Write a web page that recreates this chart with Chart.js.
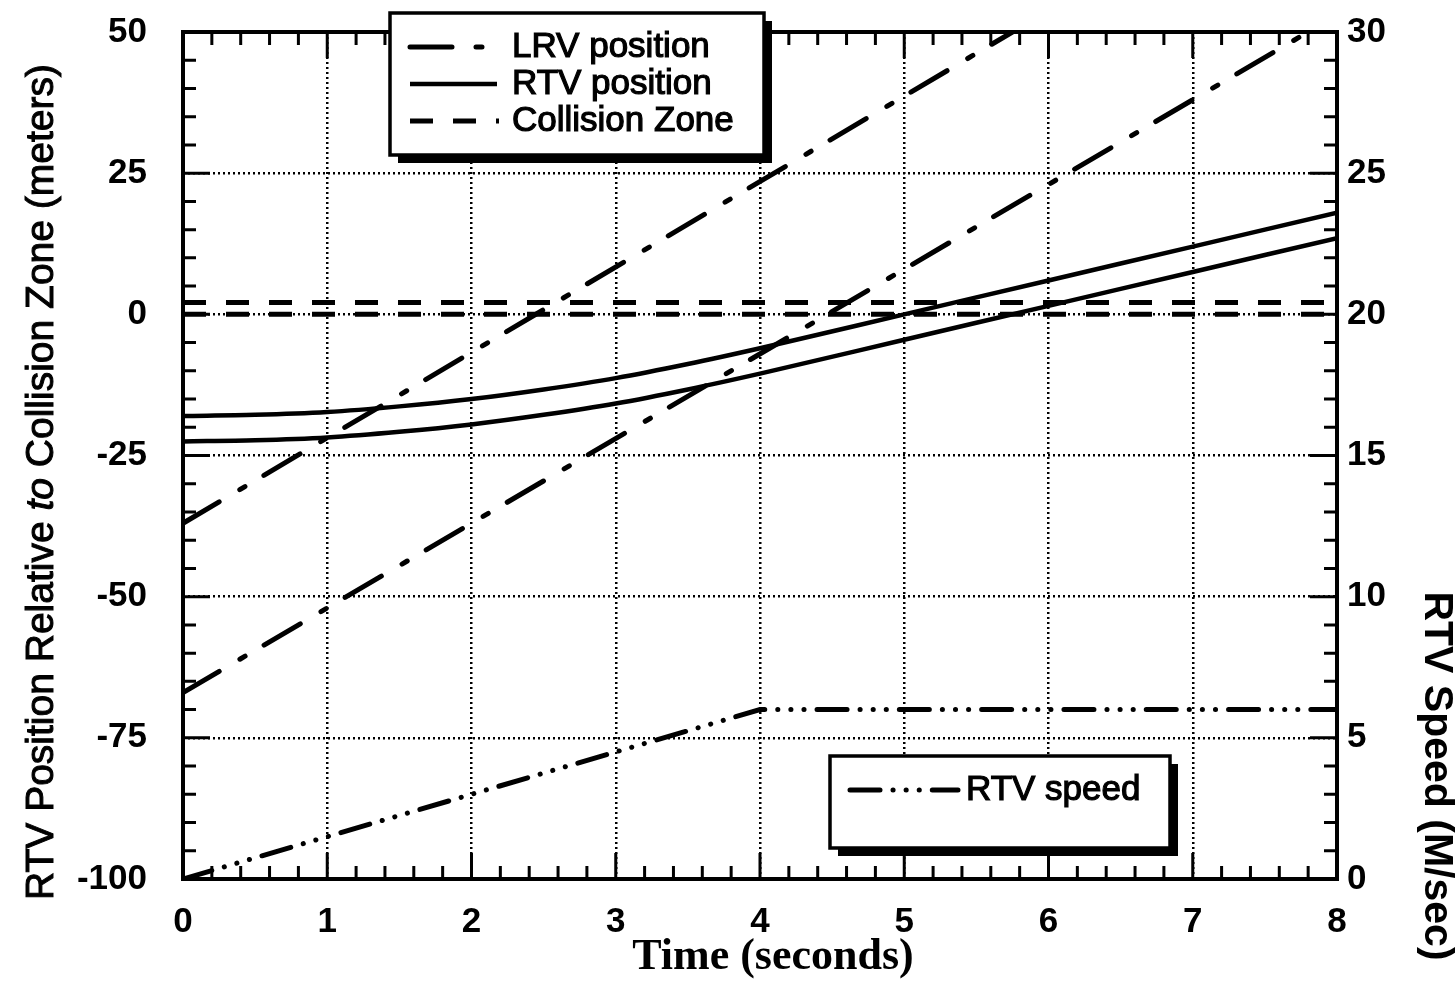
<!DOCTYPE html>
<html>
<head>
<meta charset="utf-8">
<script src="https://cdn.jsdelivr.net/npm/chart.js@4.4.1/dist/chart.umd.min.js"></script>
<style>
html, body { margin: 0; padding: 0; background: #fff; }
#wrap { position: relative; width: 1456px; height: 985px; }
</style>
</head>
<body>
<div id="wrap"><canvas id="chart" width="1456" height="985"></canvas></div>
<script>
// axes
const timeTicks = [0, 1, 2, 3, 4, 5, 6, 7, 8]
const posTicks = [-100, -75, -50, -25, 0, 25, 50]
const speedTicks = [0, 5, 10, 15, 20, 25, 30]

// LRV front / rear position (m)
const lrvFrontT = [0, 5.75]
const lrvFrontPos = [-37, 50]
const lrvRearT = [0, 7.8]
const lrvRearPos = [-67, 50]

// RTV front / rear position (m)
const rtvT = [0, 0.5, 1, 1.5, 2, 2.5, 3, 3.5, 4, 5, 6, 7, 8]
const rtvFrontPos = [-18, -17.8, -17.3, -16.3, -15, -13.3, -11.3, -8.8, -6, 0, 6, 12, 18]
const rtvRearPos = [-22.5, -22.3, -21.8, -20.8, -19.5, -17.8, -15.8, -13.3, -10.5, -4.5, 1.5, 7.5, 13.5]

// collision zone edges (m)
const zoneT = [0, 8]
const zoneNear = [0, 0]
const zoneFar = [2.1, 2.1]

// RTV speed (m/s), right axis
const speedT = [0, 1, 2, 3, 4, 8]
const rtvSpeed = [0, 1.5, 3, 4.5, 6, 6]

const SANS = '"Liberation Sans", Arial, sans-serif'
const SERIF = '"Liberation Serif", "Times New Roman", serif'

function pts(xs, ys) {
    return xs.map((x, i) => ({x: x, y: ys[i]}))
}

const lrvDash = [42, 24, 6, 22]
const zoneDash = [23, 20]
const speedDash = [30, 13, 0.1, 13, 0.1, 13, 0.1, 13]

const datasets = [
    {label: 'LRV position', data: pts(lrvFrontT, lrvFrontPos), borderDash: lrvDash, borderCapStyle: 'round', borderWidth: 5},
    {label: 'LRV rear', data: pts(lrvRearT, lrvRearPos), borderDash: lrvDash, borderCapStyle: 'round', borderWidth: 5},
    {label: 'RTV position', data: pts(rtvT, rtvFrontPos), borderWidth: 4.5, cubicInterpolationMode: 'monotone'},
    {label: 'RTV rear', data: pts(rtvT, rtvRearPos), borderWidth: 4.5, cubicInterpolationMode: 'monotone'},
    {label: 'Collision Zone', data: pts(zoneT, zoneFar), borderDash: zoneDash, borderWidth: 5},
    {label: 'Collision near', data: pts(zoneT, zoneNear), borderDash: zoneDash, borderWidth: 5},
    {label: 'RTV speed', data: pts(speedT, rtvSpeed), borderDash: speedDash, borderCapStyle: 'round', borderWidth: 5, yAxisID: 'y2'}
]
datasets.forEach(d => {
    d.borderColor = '#000'
    d.pointRadius = 0
    d.fill = false
    if (!d.yAxisID) d.yAxisID = 'y'
})

function drawSample(ctx, x1, x2, y, ds) {
    ctx.save()
    ctx.strokeStyle = '#000'
    ctx.lineWidth = ds.borderWidth
    ctx.lineCap = ds.borderCapStyle || 'butt'
    ctx.setLineDash(ds.borderDash || [])
    ctx.beginPath()
    ctx.moveTo(x1, y)
    ctx.lineTo(x2, y)
    ctx.stroke()
    ctx.restore()
}

function drawBox(ctx, x, y, w, h) {
    ctx.save()
    ctx.fillStyle = '#000'
    ctx.fillRect(x + 8, y + 8, w, h)
    ctx.fillStyle = '#fff'
    ctx.fillRect(x, y, w, h)
    ctx.strokeStyle = '#000'
    ctx.lineWidth = 3.5
    ctx.strokeRect(x, y, w, h)
    ctx.restore()
}

function drawLabel(ctx, text, x, y, font) {
    ctx.save()
    ctx.font = font
    ctx.fillStyle = '#000'
    ctx.strokeStyle = '#000'
    ctx.lineWidth = 1.2
    ctx.textAlign = 'left'
    ctx.textBaseline = 'middle'
    ctx.fillText(text, x, y)
    ctx.strokeText(text, x, y)
    ctx.restore()
}

function drawParts(ctx, parts, cx, cy, angle) {
    ctx.save()
    ctx.translate(cx, cy)
    ctx.rotate(angle)
    ctx.fillStyle = '#000'
    ctx.strokeStyle = '#000'
    ctx.lineWidth = 1
    ctx.textAlign = 'left'
    ctx.textBaseline = 'middle'
    let total = 0
    parts.forEach(p => { ctx.font = p.font; p.w = ctx.measureText(p.text).width; total += p.w })
    let x = -total / 2
    parts.forEach(p => {
        ctx.font = p.font
        ctx.fillText(p.text, x, 0)
        if (p.stroke) ctx.strokeText(p.text, x, 0)
        x += p.w
    })
    ctx.restore()
}

const frame = {
    id: 'frame',
    afterDatasetsDraw(chart) {
        const ctx = chart.ctx
        const a = chart.chartArea
        const sx = chart.scales.x, sy = chart.scales.y, s2 = chart.scales.y2
        ctx.save()
        ctx.strokeStyle = '#000'
        ctx.lineWidth = 3
        ctx.beginPath()
        // minor ticks every 0.2 s, 5 m and 1 m/s, pointing inward
        for (let i = 0; i <= 40; i++) {
            const px = sx.getPixelForValue(i / 5)
            const len = i % 5 ? 13 : 26
            ctx.moveTo(px, a.bottom); ctx.lineTo(px, a.bottom - len)
            ctx.moveTo(px, a.top); ctx.lineTo(px, a.top + len)
        }
        for (let i = 0; i <= 30; i++) {
            const py = sy.getPixelForValue(-100 + i * 5)
            ctx.moveTo(a.left, py); ctx.lineTo(a.left + (i % 5 ? 13 : 27), py)
            const py2 = s2.getPixelForValue(i)
            ctx.moveTo(a.right, py2); ctx.lineTo(a.right - (i % 5 ? 13 : 27), py2)
        }
        ctx.stroke()
        ctx.lineWidth = 4
        ctx.strokeRect(a.left, a.top, a.right - a.left, a.bottom - a.top)
        ctx.restore()
    },
    afterDraw(chart) {
        const ctx = chart.ctx
        const ds = chart.data.datasets
        const legendFont = '35px ' + SANS

        // upper legend
        drawBox(ctx, 390, 13, 374, 142)
        drawSample(ctx, 410, 497, 47, ds[0])
        drawLabel(ctx, 'LRV position', 512, 47, legendFont)
        drawSample(ctx, 410, 497, 84, ds[2])
        drawLabel(ctx, 'RTV position', 512, 84, legendFont)
        drawSample(ctx, 410, 499, 121, ds[4])
        drawLabel(ctx, 'Collision Zone', 512, 121, legendFont)

        // lower legend
        drawBox(ctx, 830, 756, 340, 92)
        drawSample(ctx, 850, 958, 790, ds[6])
        drawLabel(ctx, 'RTV speed', 966, 790, legendFont)

        // axis titles
        drawParts(ctx, [
            {text: 'RTV Position Relative ', font: '39px ' + SANS, stroke: true},
            {text: 'to', font: 'italic 39px ' + SANS, stroke: true},
            {text: ' Collision Zone (meters)', font: '39px ' + SANS, stroke: true}
        ], 42, 482, -Math.PI / 2)
        drawParts(ctx, [{text: 'RTV Speed (M/sec)', font: 'bold 41px ' + SANS}], 1436, 776, Math.PI / 2)
        drawParts(ctx, [{text: 'Time (seconds)', font: 'bold 44px ' + SERIF}], 773, 958, 0)
    }
}

const tickFont = {family: SANS, size: 35, weight: 'bold'}
const gridOpts = {color: '#000', lineWidth: 2.5, drawTicks: false}

// the plot frame is fixed, so drop the padding Chart.js reserves for end labels
function noPad(s) {
    s.paddingTop = 0
    s.paddingBottom = 0
    s.paddingLeft = 0
    s.paddingRight = 0
}

new Chart(document.getElementById('chart'), {
    type: 'line',
    data: {datasets: datasets},
    options: {
        responsive: false,
        animation: false,
        devicePixelRatio: 1,
        layout: {padding: {top: 32, left: 0, right: 0, bottom: 0}},
        plugins: {legend: {display: false}, tooltip: {enabled: false}},
        scales: {
            x: {
                type: 'linear', min: timeTicks[0], max: timeTicks[timeTicks.length - 1],
                afterBuildTicks: s => { s.ticks = timeTicks.map(v => ({value: v})) },
                ticks: {font: tickFont, color: '#000', padding: 22, maxRotation: 0},
                grid: gridOpts,
                border: {display: false, dash: [2, 3]},
                afterFit: s => { s.height = 106; noPad(s) }
            },
            y: {
                type: 'linear', position: 'left', min: posTicks[0], max: posTicks[posTicks.length - 1],
                afterBuildTicks: s => { s.ticks = posTicks.map(v => ({value: v})) },
                ticks: {font: tickFont, color: '#000', padding: 36},
                grid: gridOpts,
                border: {display: false, dash: [2, 3]},
                afterFit: s => { s.width = 183; noPad(s) }
            },
            y2: {
                type: 'linear', position: 'right', min: speedTicks[0], max: speedTicks[speedTicks.length - 1],
                afterBuildTicks: s => { s.ticks = speedTicks.map(v => ({value: v})) },
                ticks: {font: tickFont, color: '#000', padding: 10},
                grid: {display: false, drawTicks: false},
                border: {display: false},
                afterFit: s => { s.width = 119; noPad(s) }
            }
        }
    },
    plugins: [frame]
})
</script>
</body>
</html>
